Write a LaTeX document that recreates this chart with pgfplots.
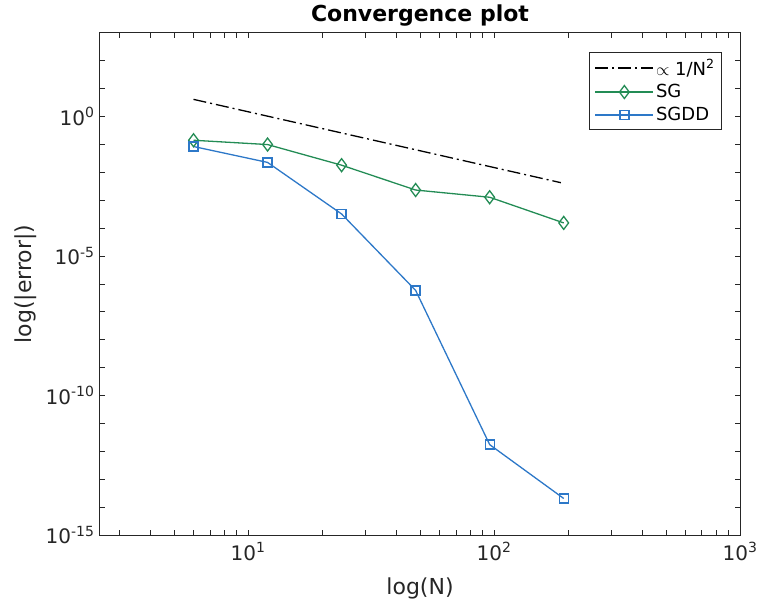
\documentclass[border=0pt]{standalone}
\usepackage{fontspec}
\setmainfont{DejaVu Sans}
\usepackage{pgfplots}
\pgfplotsset{compat=1.18}
\definecolor{sgg}{RGB}{35,140,85}
\definecolor{sgb}{RGB}{45,120,200}
\definecolor{axg}{RGB}{38,38,38}
\begin{document}
\begin{tikzpicture}
\begin{axis}[
  scale only axis, width=640pt, height=502pt,
  xmode=log, ymode=log,
  xmin=2.5, xmax=1000, ymin=1e-15, ymax=1e3,
  xtick={10,100,1000},
  xticklabels={10\textsuperscript{1},10\textsuperscript{2},10\textsuperscript{3}},
  minor xtick={3,4,5,6,7,8,9,20,30,40,50,60,70,80,90,200,300,400,500,600,700,800,900},
  ytick={1e-15,1e-10,1e-5,1},
  yticklabels={10\textsuperscript{-15},10\textsuperscript{-10},10\textsuperscript{-5},10\textsuperscript{0}},
  minor ytick={1e-14,1e-13,1e-12,1e-11,1e-9,1e-8,1e-7,1e-6,1e-4,1e-3,1e-2,1e-1,1e1,1e2},
  major tick length=5pt, minor tick length=5pt,
  every tick/.style={axg, line width=0.8pt},
  axis line style={axg, line width=1pt},
  tick label style={font=\fontsize{20}{24}\selectfont, text=axg},
  xticklabel style={yshift=-4pt},
  yticklabel style={xshift=-2pt},
  label style={font=\fontsize{22}{26}\selectfont, text=axg},
  xlabel={log(N)},
  xlabel style={yshift=-10pt},
  ylabel={log(|error|)},
  ylabel style={yshift=2pt},
  title={Convergence plot},
  title style={font=\fontsize{22}{26}\selectfont\bfseries, yshift=-3pt},
  legend style={at={(0.972,0.962)}, anchor=north east, draw=axg, line width=0.8pt,
    font=\fontsize{18}{22}\selectfont, row sep=4pt, inner xsep=5pt, inner ysep=5pt},
  legend cell align=left,
  legend image code/.code={
    \draw[mark repeat=2, mark phase=2, #1] plot coordinates {(0pt,0pt) (29pt,0pt) (58pt,0pt)};
  },
]
\addplot[black, line width=1.3pt, dash pattern=on 13pt off 4pt on 2pt off 4pt] coordinates {
  (6,4.17) (187,0.00429)
};
\addlegendentry{$\propto$ 1/N\textsuperscript{2}}
\addplot[sgg, line width=1.3pt, mark=diamond, mark size=6.5pt, mark options={solid, fill=none}] coordinates {
  (6,0.1426) (12,0.1) (24,0.0182) (48,0.00234) (96,0.00129) (192,0.000155)
};
\addlegendentry{SG}
\addplot[sgb, line width=1.3pt, mark=square, mark size=4.5pt, mark options={solid, fill=none}] coordinates {
  (6,0.0851) (12,0.0229) (24,3.24e-4) (48,5.89e-7) (96,1.74e-12) (192,2.04e-14)
};
\addlegendentry{SGDD}
\end{axis}
\pgfresetboundingbox
\path[use as bounding box] ([shift={(-100pt,-75pt)}]current axis.south west) rectangle ([shift={(19pt,33pt)}]current axis.north east);
\end{tikzpicture}
\end{document}
